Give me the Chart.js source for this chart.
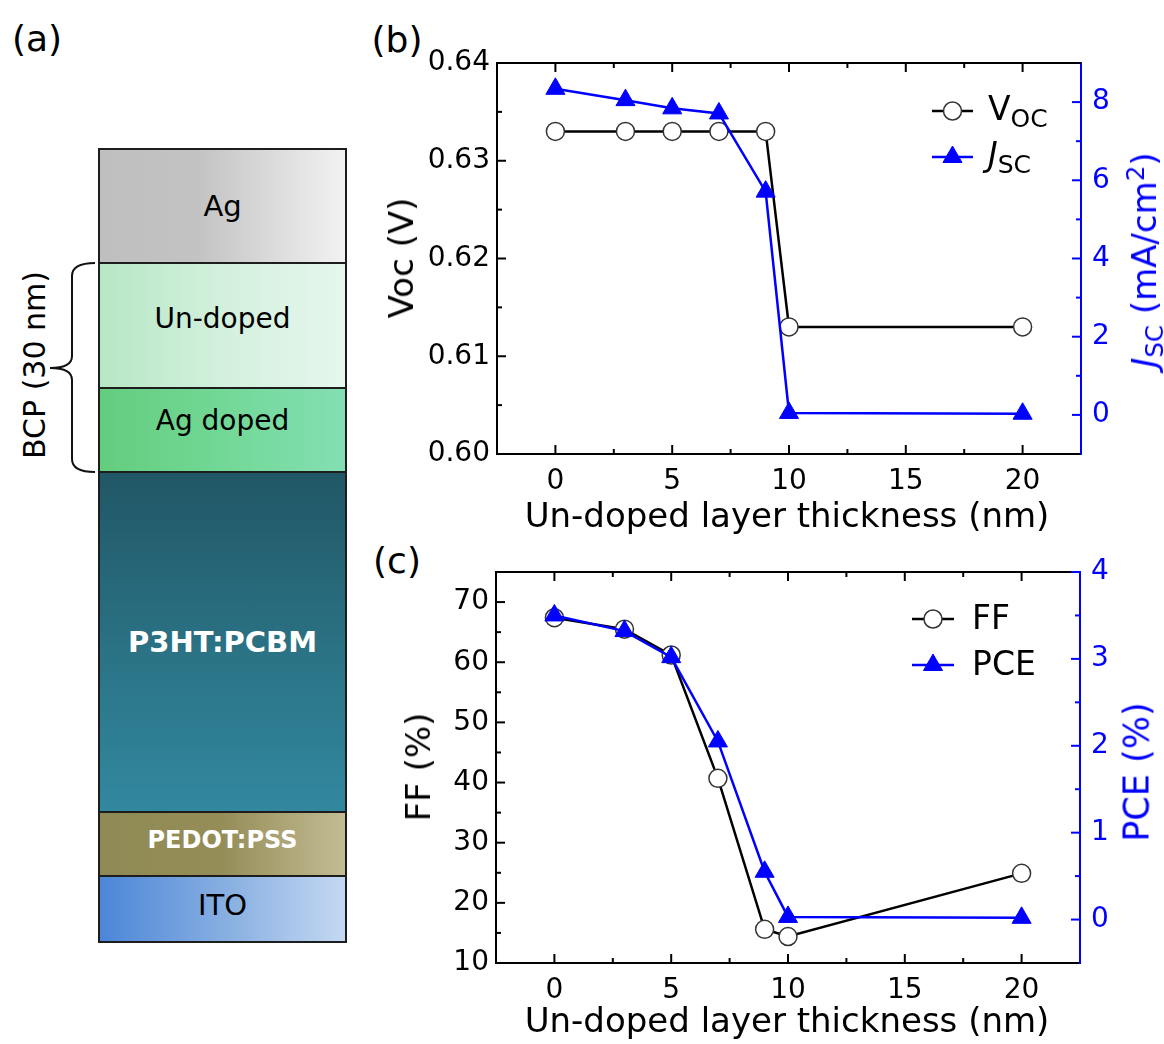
<!DOCTYPE html>
<html>
<head>
<meta charset="utf-8">
<title>BCP un-doped layer thickness</title>
<script src="https://cdn.jsdelivr.net/npm/chart.js@4.4.1/dist/chart.umd.min.js"></script>
<style>
  body { margin:0; background:#fff; font-family:"DejaVu Sans", sans-serif; color:#000; }
  #page { position:relative; width:1164px; height:1044px; overflow:hidden; }
  canvas { position:absolute; }
  .txt { position:absolute; white-space:nowrap; line-height:1; transform:translate(-50%,-50%); }
  .rot { transform:translate(-50%,-50%) rotate(-90deg); }
  .sub { font-size:.72em; position:relative; top:.3em; }
  .sup { font-size:.72em; position:relative; top:-.5em; }
  .layer { position:absolute; left:98px; width:249px; box-sizing:border-box; border:2px solid #1d1d1d;
           display:flex; align-items:center; justify-content:center; font-size:28px; }
  .white { color:#fff; font-weight:bold; }
</style>
</head>
<body>
<div id="page">
  <!-- (a) device stack -->
  <div class="txt" style="left:37px;top:39px;font-size:36px">(a)</div>
  <div class="layer" style="top:148px;height:116px;font-size:29px;background:linear-gradient(to right,#bfbfbf 0%,#c3c3c3 40%,#f2f2f2 100%)">Ag</div>
  <div class="layer" style="top:262px;height:127px;padding-bottom:14px;background:linear-gradient(to right,#b6e7c5 0%,#d3f0dd 50%,#e6f7ee 100%)">Un-doped</div>
  <div class="layer" style="top:387px;height:86px;padding-bottom:20px;background:linear-gradient(to right,#63cd7e 0%,#72d896 50%,#83dfb3 100%)">Ag doped</div>
  <div class="layer white" style="top:471px;height:342px;font-size:29px;background:linear-gradient(to bottom,#215766 0%,#2a7183 50%,#32889f 100%)">P3HT:PCBM</div>
  <div class="layer white" style="top:811px;height:66px;font-size:24px;padding-bottom:8px;background:linear-gradient(to right,#8f8a55 0%,#958d58 50%,#c3bc94 100%)">PEDOT:PSS</div>
  <div class="layer" style="top:875px;height:68px;padding-bottom:8px;font-size:29px;background:linear-gradient(to right,#4c86d8 0%,#8cb2e2 55%,#c4d8f2 100%)">ITO</div>
  <svg style="position:absolute;left:0;top:0" width="120" height="1044">
    <path d="M95 263 Q72 263 72 276 L72 356 Q72 368 50 368 Q72 368 72 380 L72 459 Q72 472 95 472"
          fill="none" stroke="#111" stroke-width="2"/>
  </svg>
  <div class="txt rot" style="left:35px;top:365px;font-size:30px">BCP (30 nm)</div>

  <!-- (b) -->
  <div class="txt" style="left:397px;top:40px;font-size:36px">(b)</div>
  <canvas id="chartB" width="804" height="510" style="left:360px;top:30px"></canvas>
  <div class="txt rot" style="left:401px;top:258px;font-size:34px">Voc (V)</div>
  <div class="txt rot" style="left:1144px;top:260px;font-size:34px;color:#0000ff"><i>J</i><span class="sub">SC</span> (mA/cm<span class="sup">2</span>)</div>
  <div class="txt" style="left:787px;top:515px;font-size:34px">Un-doped layer thickness (nm)</div>

  <!-- (c) -->
  <div class="txt" style="left:397px;top:561px;font-size:36px">(c)</div>
  <canvas id="chartC" width="804" height="504" style="left:360px;top:540px"></canvas>
  <div class="txt rot" style="left:418px;top:767px;font-size:34px">FF (%)</div>
  <div class="txt rot" style="left:1137px;top:772px;font-size:35px;color:#0000ff">PCE (%)</div>
  <div class="txt" style="left:787px;top:1020px;font-size:34px">Un-doped layer thickness (nm)</div>
</div>

<script>
// un-doped BCP layer thickness (nm)
const thickness = [0, 3, 5, 7, 9, 10, 20];

// panel (b)
const vocValues = [0.633, 0.633, 0.633, 0.633, 0.633, 0.613, 0.613];
const jscValues = [8.34, 8.05, 7.84, 7.71, 5.71, 0.05, 0.03];
// panel (c)
const ffValues  = [67.4, 65.5, 61.2, 40.7, 15.6, 14.4, 24.9];
const pceValues = [3.50, 3.32, 3.02, 2.05, 0.55, 0.03, 0.02];

// axes
const xTicks   = [0, 5, 10, 15, 20];
const xMinor   = [2.5, 7.5, 12.5, 17.5];
const vocTicks = [0.60, 0.61, 0.62, 0.63, 0.64];
const vocMinor = [0.605, 0.615, 0.625, 0.635];
const jscTicks = [0, 2, 4, 6, 8];
const jscMinor = [1, 3, 5, 7];
const ffTicks  = [10, 20, 30, 40, 50, 60, 70];
const ffMinor  = [15, 25, 35, 45, 55, 65];
const pceTicks = [0, 1, 2, 3, 4];
const pceMinor = [0.5, 1.5, 2.5, 3.5];

const BLACK = '#000', BLUE = '#0000ff';
Chart.defaults.font.family = '"DejaVu Sans"';

// inward ticks on all four sides + top frame line
const frameTicks = {
  id: 'frameTicks',
  beforeDatasetsDraw(chart, args, o) {
    const { ctx, chartArea: a, scales } = chart;
    const line = (x1, y1, x2, y2, c) => {
      ctx.strokeStyle = c; ctx.beginPath(); ctx.moveTo(x1, y1); ctx.lineTo(x2, y2); ctx.stroke();
    };
    const mark = (scale, values, len, color) => values.forEach(v => {
      const p = scale.getPixelForValue(v);
      if (scale.axis === 'x') { line(p, a.bottom, p, a.bottom - len, color); line(p, a.top, p, a.top + len, color); }
      else if (scale.position === 'left') line(a.left, p, a.left + len, p, color);
      else line(a.right, p, a.right - len, p, color);
    });
    ctx.save();
    ctx.lineWidth = 2;
    line(a.left - 1, a.top, a.right, a.top, BLACK);
    mark(scales.x, scales.x.ticks.map(t => t.value), 9, BLACK);
    mark(scales.x, o.xMinor, 5, BLACK);
    mark(scales.y, scales.y.ticks.map(t => t.value), 9, BLACK);
    mark(scales.y, o.yMinor, 5, BLACK);
    mark(scales.y2, scales.y2.ticks.map(t => t.value), 9, BLUE);
    mark(scales.y2, o.y2Minor, 5, BLUE);
    ctx.restore();
  }
};

// legend with subscripts / italics
const richLegend = {
  id: 'richLegend',
  afterDatasetsDraw(chart, args, o) {
    const ctx = chart.ctx;
    ctx.save();
    o.items.forEach((it, i) => {
      const ds = chart.data.datasets[it.dataset];
      const y = o.y + i * o.rowGap;
      ctx.strokeStyle = ds.borderColor; ctx.lineWidth = ds.borderWidth;
      ctx.beginPath(); ctx.moveTo(o.x, y); ctx.lineTo(o.x + o.lineLen, y); ctx.stroke();
      ctx.fillStyle = ds.pointBackgroundColor; ctx.strokeStyle = ds.pointBorderColor; ctx.lineWidth = ds.pointBorderWidth;
      Chart.helpers.drawPoint(ctx, { pointStyle: ds.pointStyle, radius: ds.pointRadius, borderWidth: ds.pointBorderWidth, rotation: 0 },
        o.x + o.lineLen / 2, y);
      let tx = o.x + o.textOffset;
      ctx.fillStyle = BLACK; ctx.textBaseline = 'alphabetic'; ctx.textAlign = 'left';
      it.parts.forEach(p => {
        ctx.font = `${p.italic ? 'italic ' : ''}${p.size}px "DejaVu Sans"`;
        ctx.fillText(p.text, tx, y + o.baseline + (p.dy || 0));
        tx += ctx.measureText(p.text).width;
      });
    });
    ctx.restore();
  }
};

const pts = ys => thickness.map((x, i) => ({ x, y: ys[i] }));
const fixTicks = list => s => { s.ticks = list.map(v => ({ value: v })); };

function circleSet(label, ys) {
  return { label, data: pts(ys), yAxisID: 'y', borderColor: BLACK, borderWidth: 2.5,
    pointStyle: 'circle', pointRadius: 9, pointBackgroundColor: '#fff', pointBorderColor: '#333',
    pointBorderWidth: 1.5, order: 2 };
}
function triangleSet(label, ys) {
  return { label, data: pts(ys), yAxisID: 'y2', borderColor: BLUE, borderWidth: 2.5,
    pointStyle: 'triangle', pointRadius: 11, pointBackgroundColor: BLUE, pointBorderColor: BLUE,
    pointBorderWidth: 1, order: 1 };
}

function makeChart(id, cfg) {
  return new Chart(document.getElementById(id), {
    type: 'line',
    data: { datasets: cfg.datasets },
    options: {
      responsive: false, animation: false, devicePixelRatio: 1,
      layout: { padding: { top: cfg.top } },
      elements: { line: { tension: 0 } },
      scales: {
        x: {
          type: 'linear', min: -2.5, max: 22.5,
          afterBuildTicks: fixTicks(xTicks), afterFit: s => { s.height = cfg.xHeight; },
          grid: { display: false, drawTicks: false }, border: { color: BLACK, width: 2 },
          ticks: { color: BLACK, font: { size: 28 }, padding: 11 }
        },
        y: {
          position: 'left', min: cfg.y.min, max: cfg.y.max,
          afterBuildTicks: fixTicks(cfg.y.ticks), afterFit: s => { s.width = cfg.leftWidth; },
          grid: { display: false, drawTicks: false }, border: { color: BLACK, width: 2 },
          ticks: { color: BLACK, font: { size: 28 }, padding: 7, callback: cfg.y.fmt }
        },
        y2: {
          position: 'right', min: cfg.y2.min, max: cfg.y2.max,
          afterBuildTicks: fixTicks(cfg.y2.ticks), afterFit: s => { s.width = cfg.rightWidth; },
          grid: { display: false, drawTicks: false }, border: { color: BLUE, width: 2 },
          ticks: { color: BLUE, font: { size: 28 }, padding: 11 }
        }
      },
      plugins: {
        legend: { display: false }, tooltip: { enabled: false },
        frameTicks: { xMinor, yMinor: cfg.y.minor, y2Minor: cfg.y2.minor },
        richLegend: cfg.legend
      }
    },
    plugins: [frameTicks, richLegend]
  });
}

makeChart('chartB', {
  top: 33, xHeight: 86, leftWidth: 137, rightWidth: 83,
  datasets: [circleSet('Voc', vocValues), triangleSet('Jsc', jscValues)],
  y:  { min: 0.60, max: 0.64, ticks: vocTicks, minor: vocMinor, fmt: v => v.toFixed(2) },
  y2: { min: -1, max: 9, ticks: jscTicks, minor: jscMinor },
  legend: { x: 572, y: 81, rowGap: 46, lineLen: 41, textOffset: 56, baseline: 9, items: [
    { dataset: 0, parts: [{ text: 'V', size: 33 }, { text: 'OC', size: 25, dy: 7 }] },
    { dataset: 1, parts: [{ text: 'J', size: 33, italic: true }, { text: 'SC', size: 25, dy: 7 }] }
  ] }
});

makeChart('chartC', {
  top: 32, xHeight: 81, leftWidth: 136, rightWidth: 84,
  datasets: [circleSet('FF', ffValues), triangleSet('PCE', pceValues)],
  y:  { min: 10, max: 75, ticks: ffTicks, minor: ffMinor },
  y2: { min: -0.5, max: 4, ticks: pceTicks, minor: pceMinor },
  legend: { x: 552, y: 79, rowGap: 46, lineLen: 42, textOffset: 60, baseline: 10, items: [
    { dataset: 0, parts: [{ text: 'FF', size: 33 }] },
    { dataset: 1, parts: [{ text: 'PCE', size: 33 }] }
  ] }
});
</script>
</body>
</html>
